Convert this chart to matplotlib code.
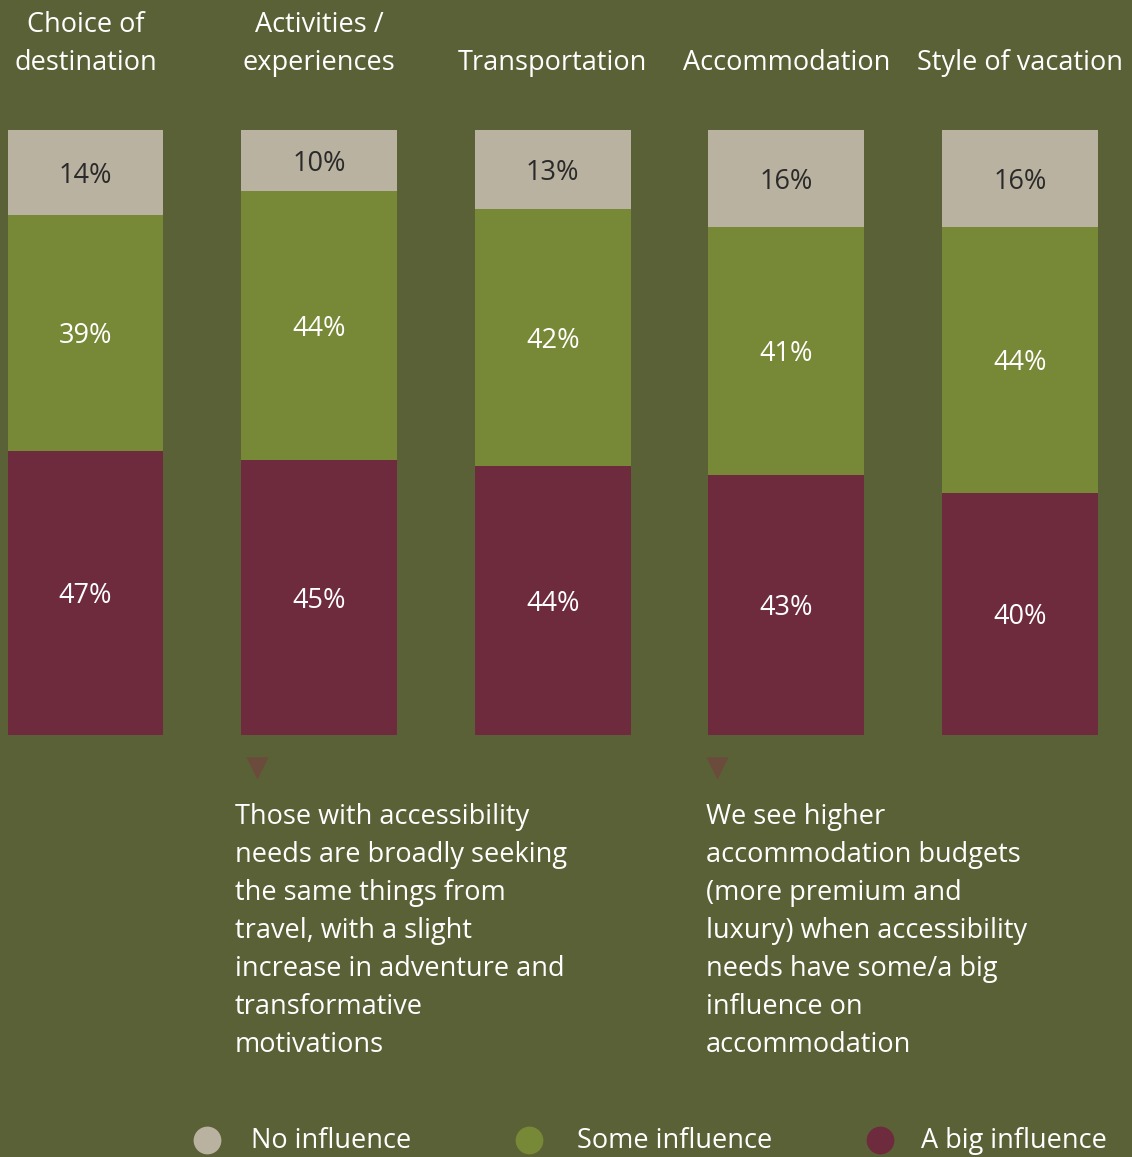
import matplotlib.pyplot as plt
import numpy as np

plt.rcParams['font.family'] = ['Open Sans', 'DejaVu Sans']

# -- data ----------------------------------------------------------------------

categories = ['Choice of\ndestination', 'Activities /\nexperiences',
              'Transportation', 'Accommodation', 'Style of vacation']
big_influence = [47, 45, 44, 43, 40]
some_influence = [39, 44, 42, 41, 44]
no_influence = [14, 10, 13, 16, 16]
series_names = ['No influence', 'Some influence', 'A big influence']

note_left = ('Those with accessibility\nneeds are broadly seeking\n'
             'the same things from\ntravel, with a slight\n'
             'increase in adventure and\ntransformative\nmotivations')
note_right = ('We see higher\naccommodation budgets\n(more premium and\n'
              'luxury) when accessibility\nneeds have some/a big\n'
              'influence on\naccommodation')

# -- style ---------------------------------------------------------------------

BG = '#5b6136'
GREY = '#bab2a0'
GREEN = '#778836'
RED = '#6e2b3e'
ARROW = '#6b4c3c'
W, H = 1132, 1157
FS = 19.5
LS = 1.48


def px(x, y):
  return x / W, 1 - y / H


fig = plt.figure(figsize=(W / 100, H / 100), dpi=100, facecolor=BG)
ax = fig.add_axes([0, 0, 1, 1])
ax.set_facecolor(BG)
ax.set_axis_off()

x = np.arange(len(categories))
totals = np.array(big_influence) + np.array(some_influence) + np.array(no_influence)
big = np.array(big_influence) / totals * 100
some = np.array(some_influence) / totals * 100
none_ = np.array(no_influence) / totals * 100

width = 0.667
ax.bar(x, big, width, color=RED)
ax.bar(x, some, width, bottom=big, color=GREEN)
ax.bar(x, none_, width, bottom=big + some, color=GREY)

for i in range(len(x)):
  ax.text(x[i], big[i] / 2, f'{big_influence[i]}%', ha='center',
          va='center_baseline', color='white', fontsize=FS)
  ax.text(x[i], big[i] + some[i] / 2, f'{some_influence[i]}%',
          ha='center', va='center_baseline', color='white', fontsize=FS)
  ax.text(x[i], big[i] + some[i] + none_[i] / 2, f'{no_influence[i]}%',
          ha='center', va='center_baseline', color='#2a2a2a', fontsize=FS)
  ax.text(x[i], 100 + 60 / 6.05, categories[i], ha='center',
          va='baseline', color='white', fontsize=FS, linespacing=LS)

# map bar positions onto the canvas: 0 -> 85.5px, step 233.6px
step = 233.6
ax.set_xlim(-85.5 / step, (W - 85.5) / step)
ax.set_ylim(-(H - 735) / 6.05, 100 + 130 / 6.05)

# notes under the 2nd and 4th bars
for xa, xt, note in [(257, 235, note_left), (717, 706, note_right)]:
  ax.scatter(*px(xa, 768), marker='v', s=260, color=ARROW, lw=0,
             transform=fig.transFigure, clip_on=False)
  fig.text(*px(xt, 803), note, ha='left', va='top', color='white',
           fontsize=FS, linespacing=LS)

# legend
for cx, tx, name, c in [(207, 251, series_names[0], GREY),
                        (529, 577, series_names[1], GREEN),
                        (880, 921, series_names[2], RED)]:
  ax.scatter(*px(cx, 1140), s=400, color=c, lw=0,
             transform=fig.transFigure, clip_on=False)
  fig.text(*px(tx, 1141), name, ha='left', va='center', color='white',
           fontsize=FS)

plt.savefig('out.png', dpi=100, facecolor=BG)
